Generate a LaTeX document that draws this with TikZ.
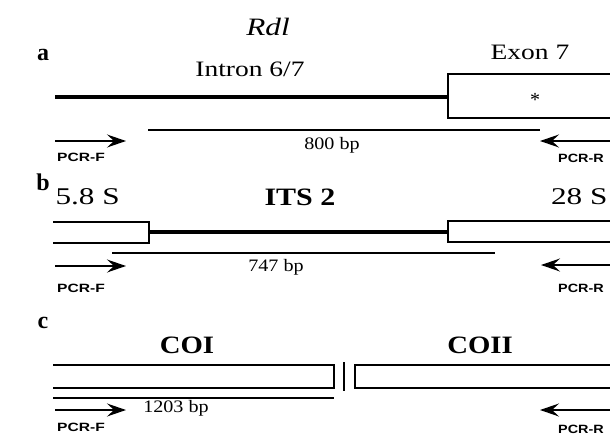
\documentclass[tikz,border=0pt]{standalone}
\usepackage{fontspec}
\setmainfont{Liberation Serif}
\newfontfamily\pcrfont{Liberation Sans}
\usetikzlibrary{arrows.meta}
\newcommand{\hsc}[2]{\scalebox{#1}[1]{#2}}
\tikzset{
  thickseg/.style={line width=3.2pt},
  boxline/.style={line width=1.5pt},
  prodline/.style={line width=1.5pt},
  primer/.style={line width=1.6pt,-{Stealth[length=19pt,width=13pt,inset=7pt]}},
  lbl/.style={font=\fontsize{24}{26}\selectfont\bfseries},
  gtxt/.style={font=\fontsize{22}{24}\selectfont},
  rtxt/.style={font=\fontsize{24}{26}\selectfont},
  gbold/.style={font=\fontsize{25}{27}\selectfont\bfseries},
  bptxt/.style={font=\fontsize{17.5}{19}\selectfont},
  pcr/.style={font=\pcrfont\bfseries\fontsize{12}{13}\selectfont, inner sep=0pt},
}
\begin{document}
\begin{tikzpicture}[x=1pt,y=-1pt]
\useasboundingbox (0,0) rectangle (610,439);
% ---------- panel a ----------
\node[lbl] (la) at (43,55) {a};
\node[font=\fontsize{25}{27}\selectfont\itshape] (rdl) at (268,27) {\hsc{1.25}{Rdl}};
\node[gtxt] (intron) at (250,69) {\hsc{1.25}{Intron 6/7}};
\node[gtxt] (exon) at (530,52) {\hsc{1.25}{Exon 7}};
\coordinate (a1) at (55,97);
\coordinate (a2) at (448,97);
\coordinate (aboxtl) at (448,74);
\coordinate (aboxbl) at (448,118);
\coordinate (aboxtr) at (612,74);
\coordinate (aboxbr) at (612,118);
\draw[thickseg] (a1) -- (a2);
\draw[boxline] (aboxtr) -- (aboxtl) -- (aboxbl) -- (aboxbr);
\node[font=\fontsize{20}{22}\selectfont] (ast) at (535,100) {*};
\coordinate (ap1) at (148,130);
\coordinate (ap2) at (540,130);
\draw[prodline] (ap1) -- (ap2);
\coordinate (aF1) at (55,141);
\coordinate (aF2) at (126,141);
\coordinate (aR1) at (612,141);
\coordinate (aR2) at (540,141);
\draw[primer] (aF1) -- (aF2);
\draw[primer] (aR1) -- (aR2);
\node[pcr] (apf) at (81,157) {\hsc{1.3}{PCR-F}};
\node[pcr] (apr) at (581,158) {\hsc{1.2}{PCR-R}};
\node[bptxt] (a800) at (332,145) {\hsc{1.15}{800 bp}};
% ---------- panel b ----------
\node[lbl] (lb) at (43,182) {b};
\node[rtxt,anchor=west] (s58) at (52,197) {\hsc{1.3}{5.8 S}};
\node[gbold] (its) at (300,197) {\hsc{1.2}{ITS 2}};
\node[rtxt,anchor=east] (s28) at (611,197) {\hsc{1.3}{28 S}};
\coordinate (b58tl) at (53,222);
\coordinate (b58tr) at (149,222);
\coordinate (b58br) at (149,243);
\coordinate (b58bl) at (53,243);
\draw[boxline] (b58tl) -- (b58tr) -- (b58br) -- (b58bl);
\coordinate (b1) at (149,232);
\coordinate (b2) at (448,232);
\draw[thickseg] (b1) -- (b2);
\coordinate (b28tr) at (612,221);
\coordinate (b28tl) at (448,221);
\coordinate (b28bl) at (448,242);
\coordinate (b28br) at (612,242);
\draw[boxline] (b28tr) -- (b28tl) -- (b28bl) -- (b28br);
\coordinate (bp1) at (112,253);
\coordinate (bp2) at (495,253);
\draw[prodline] (bp1) -- (bp2);
\coordinate (bF1) at (55,266);
\coordinate (bF2) at (126,266);
\coordinate (bR1) at (612,265);
\coordinate (bR2) at (541,265);
\draw[primer] (bF1) -- (bF2);
\draw[primer] (bR1) -- (bR2);
\node[bptxt] (b747) at (276,267) {\hsc{1.15}{747 bp}};
\node[pcr] (bpf) at (81,288) {\hsc{1.3}{PCR-F}};
\node[pcr] (bpr) at (581,288) {\hsc{1.2}{PCR-R}};
% ---------- panel c ----------
\node[lbl] (lc) at (43,323) {c};
\node[gbold] (coi) at (187,345) {\hsc{1.15}{COI}};
\node[gbold] (coii) at (480,345) {\hsc{1.15}{COII}};
\coordinate (c1tl) at (53,365);
\coordinate (c1tr) at (334,365);
\coordinate (c1br) at (334,388);
\coordinate (c1bl) at (53,388);
\draw[boxline] (c1tl) -- (c1tr) -- (c1br) -- (c1bl);
\coordinate (cbar1) at (344,362);
\coordinate (cbar2) at (344,391);
\draw[boxline] (cbar1) -- (cbar2);
\coordinate (c2tr) at (612,365);
\coordinate (c2tl) at (355,365);
\coordinate (c2bl) at (355,388);
\coordinate (c2br) at (612,388);
\draw[boxline] (c2tr) -- (c2tl) -- (c2bl) -- (c2br);
\coordinate (cp1) at (53,398);
\coordinate (cp2) at (334,398);
\draw[prodline] (cp1) -- (cp2);
\coordinate (cF1) at (55,410);
\coordinate (cF2) at (126,410);
\coordinate (cR1) at (612,410);
\coordinate (cR2) at (540,410);
\draw[primer] (cF1) -- (cF2);
\draw[primer] (cR1) -- (cR2);
\node[bptxt] (c1203) at (176,408) {\hsc{1.15}{1203 bp}};
\node[pcr] (cpf) at (81,427) {\hsc{1.3}{PCR-F}};
\node[pcr] (cpr) at (581,429) {\hsc{1.2}{PCR-R}};
\end{tikzpicture}
\end{document}
